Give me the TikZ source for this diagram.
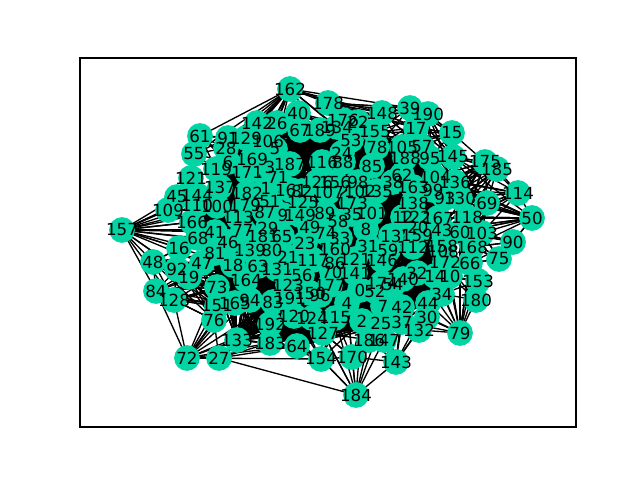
\documentclass[tikz,border=0pt]{standalone}
\usepackage{fontspec}
\setmainfont{DejaVu Sans}
\definecolor{nodecol}{RGB}{2,212,163}
\pgfdeclarelayer{bg}\pgfdeclarelayer{fg}
\pgfsetlayers{bg,main,fg}
\tikzset{
  dot/.style={circle,fill=nodecol,inner sep=0pt,outer sep=0pt,minimum size=19.3bp},
  txt/.style={inner sep=0pt,outer sep=0pt,text=black,font=\fontsize{12.5bp}{15bp}\selectfont},
  edge/.style={black,line width=1bp}
}
\def\nodelist{162/290/89,40/298/113,61/200/136,55/194/154,91/228/138,129/246/138,142/257/123,26/277/123,106/268/141,28/226/148,5/275/149,6/228/162,169/252/159,119/216/169,3/270/167,187/290/164,121/191/178,171/247/172,71/278/177,137/220/187,1/266/188,161/291/190,182/247/193,45/177/197,144/197/195,109/168/210,110/197/205,100/217/206,179/245/205,51/270/202,87/265/212,9/283/215,149/300/215,89/325/213,53/351/140,24/342/153,88/343/162,116/322/162,126/317/182,156/335/182,98/358/182,82/302/191,107/328/192,102/360/191,125/303/202,173/352/203,35/352/214,101/372/213,58/338/221,49/310/227,74/326/233,178/328/103,176/343/120,22/358/122,67/300/130,189/320/130,134/337/127,148/382/113,155/375/132,39/410/108,190/428/114,17/416/128,15/452/133,105/402/147,57/422/147,78/377/147,85/372/166,188/405/158,95/430/158,145/453/157,175/485/162,185/497/169,114/518/193,69/487/203,50/532/218,62/402/175,104/435/177,136/455/182,38/393/182,163/413/187,99/433/190,93/445/198,130/460/198,138/413/203,135/377/191,167/438/218,118/467/217,12/403/217,122/415/217,20/418/227,43/442/230,60/460/232,103/482/233,90/513/242,168/472/247,75/499/259,153/478/281,66/470/263,172/445/262,158/442/246,108/443/251,13/391/236,159/417/235,8/366/229,150/310/293,31/368/246,33/340/238,112/413/247,59/388/250,146/382/260,121/355/259,86/335/263,160/335/249,117/313/260,70/332/272,141/355/273,0/360/290,52/375/291,174/382/283,140/403/279,32/417/273,14/435/276,10/450/276,34/442/294,44/428/303,54/393/285,4/347/303,7/383/306,42/402/307,2/362/321,25/381/323,37/402/322,30/427/317,132/419/330,79/460/333,180/476/300,143/396/362,184/356/395,170/352/357,154/321/359,127/323/333,186/369/340,147/384/340,115/335/318,124/312/318,96/320/295,177/330/285,56/302/275,191/290/298,157/122/230,166/192/222,113/238/217,41/215/232,68/198/238,16/179/248,77/243/230,46/228/242,81/215/253,47/202/263,48/153/262,92/177/269,19/189/277,84/156/291,128/174/300,73/217/287,18/233/265,139/250/250,80/272/250,181/263/236,65/282/236,29/268/228,63/258/266,164/246/280,21/288/257,131/277/269,123/288/285,165/235/303,151/217/306,94/250/300,83/273/302,120/294/316,76/214/320,192/270/324,133/237/340,183/270/343,64/297/346,72/187/358,27/219/358,23/305/243}
\def\bund#1#2{\foreach \a in {#1}{\foreach \b in {#2}{%
  \draw[edge] (n\a.center) -- (n\b.center);}}}
\begin{document}
\begin{tikzpicture}[x=0.75bp,y=-0.75bp]
\useasboundingbox (0,0) rectangle (640,480);
\draw[line width=0.83bp] (80,58) rectangle (576,427);
\foreach \n/\x/\y in \nodelist {
  \node[dot] (n\n) at (\x,\y) {};
  \begin{pgfonlayer}{fg}
  \node[txt] (t\n) at (\x,\y) {\n};
  \end{pgfonlayer}
}
\begin{pgfonlayer}{bg}
% fans on the outside
\bund{157}{109,45,144,110,100,166,113,41,68,16,77,46,81,47,48,92,19,84,179,137,18,128}
\bund{162}{61,55,91,129,142,26,106,28,5,40,67,178,148,39,189,17,134,53,121,119,6,169,171}
\bund{178}{148,39,155,176,134,53,17}
\bund{148}{39,17,190,57}
\bund{15}{17,190,57,95,145,175,104,136}
\bund{175}{185,114,145,136,130,93,69,104,99}
\bund{185}{114,130,69,136,118,145}
\bund{114}{69,130,118,136,103,50}
\bund{50}{69,130,118,60,103,168,90,167,93,75,43}
\bund{90}{75,103,168,60}
\bund{69}{130,136,118,103,60,43,168,66}
\bund{79}{132,30,44,34,180,153,10,14,37,42,32,172,66}
\bund{180}{153,66,172,34,10}
\bund{153}{66,168,172,10,14,34}
\bund{75}{168,66,103,60}
\bund{143}{147,186,25,37,132,42,7,2,30,44,170}
\bund{184}{154,170,127,186,147,143,2,115,4,25,27}
\bund{27}{133,183,86,192,76,64}
\bund{72}{128,84,76,151,73,165,86,133,183,192,154,64,27,164,94}
\bund{128}{84,48,92,19,73,151,76,47,164,165,16}
\bund{84}{48,92,19,73,151,47}
\bund{48}{92,16,19,47,68,81}
\bund{61}{55,28,91,119,6,129,121}
\bund{55}{28,91,119,6}
% dense core
\bund{28,6,137,100,166,41,46,81,18,73,164,165,86,133,183,192,64,127,115,2,25,37,42,44,34,172,158,43,167,93,104,95,57,105,78,155,53,134,189,67,106,5}{28,6,137,100,166,41,46,81,18,73,164,165,86,133,183,192,64,127,115,2,25,37,42,44,34,172,158,43,167,93,104,95,57,105,78,155,53,134,189,67,106,5}
% dense bundles
\bund{5,106,26,40,187,3,71}{53,24,88,134,116,189,78,155}
\bund{53,24,88,116,134}{85,78,155,105,38,98}
\bund{135,85,38,173,101,102,98,58}{138,12,122,188,62,163,13,20,105}
\bund{13,159,59,112,146,12,122}{43,158,108,172,167,32,140,138,20}
\bund{155,148,78,178}{17,39,105,57,190}
\bund{17,57,190,39,105}{15,145,104,95,136}
\bund{145,136,130,93,104,99,118,60,43,167}{175,185,69,114,50}
\bund{140,54,42,32,44}{34,10,14,172}
\bund{127,115,4,2}{170,186,154}
\bund{86,133,165,94}{192,183,83,120}
\bund{192,183,120,64,191}{127,154,124,115}
\bund{131,63,164}{123,83,191}
\bund{47,81,18,19}{73,164,151}
\bund{166,110,144,45}{41,113,100,77}
\bund{154,127}{170,184,64}
\bund{128,84,92,19,48,47}{73,151,76,165,164,18,86}
\bund{6,119,169,137,28}{171,182,100,179,113}
\bund{141,177,70,96,4}{0,52,7,174}
\bund{15,145}{17,39,190,105,78,155}
\bund{103,60,168,66}{90,75,69,79}
\end{pgfonlayer}
\end{tikzpicture}
\end{document}
